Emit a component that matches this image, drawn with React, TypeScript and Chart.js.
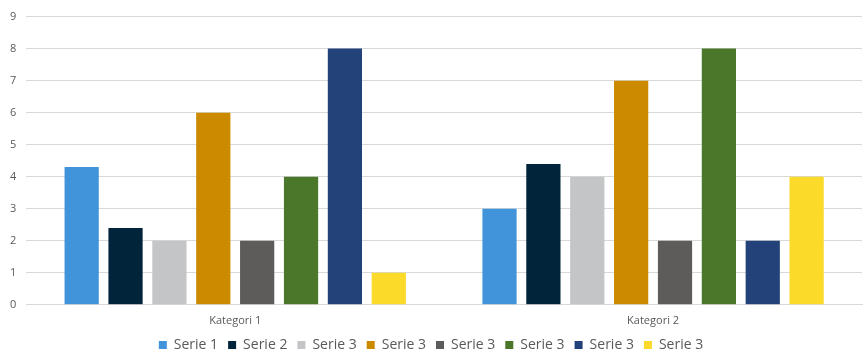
import React, { useEffect, useRef } from "react";
import { Chart, registerables } from "chart.js";

Chart.register(...registerables);

const categories = ["Kategori 1", "Kategori 2"];
const seriesNames = ["Serie 1", "Serie 2", "Serie 3", "Serie 3", "Serie 3", "Serie 3", "Serie 3", "Serie 3"];
const seriesValues = [
  [4.3, 3],
  [2.4, 4.4],
  [2, 4],
  [6, 7],
  [2, 2],
  [4, 8],
  [8, 2],
  [1, 4],
];
const seriesColors = ["#4294DA", "#01243B", "#C4C5C7", "#CC8A00", "#5D5C5A", "#4A7729", "#24427A", "#FCDA29"];

export default function App() {
  const ref = useRef<HTMLCanvasElement>(null);
  useEffect(() => {
    if (!ref.current) return;
    const chart = new Chart(ref.current, {
      type: "bar",
      data: {
        labels: categories,
        datasets: seriesNames.map((name, i) => ({
          label: name,
          data: seriesValues[i],
          backgroundColor: seriesColors[i],
          borderWidth: 0,
          categoryPercentage: 0.84,
          barPercentage: 0.78,
        })),
      },
      options: {
        animation: false,
        responsive: false,
        maintainAspectRatio: false,
        layout: { padding: { left: 0, right: 5, top: 6, bottom: -4 } },
        plugins: {
          legend: {
            position: "bottom",
            labels: {
              boxWidth: 8,
              boxHeight: 8,
              padding: 10,
              color: "#595959",
              font: { family: "'Open Sans', 'Noto Sans', sans-serif", size: 14 },
            },
          },
          tooltip: { enabled: false },
        },
        scales: {
          x: {
            grid: { display: false },
            border: { display: true, color: "#D9D9D9" },
            ticks: { color: "#595959", font: { family: "'Open Sans', 'Noto Sans', sans-serif", size: 11 }, padding: 1 },
          },
          y: {
            min: 0,
            max: 9,
            ticks: { stepSize: 1, color: "#595959", font: { family: "'Open Sans', 'Noto Sans', sans-serif", size: 11 }, padding: 10 },
            grid: { color: "#D9D9D9", drawTicks: false },
            border: { display: false },
          },
        },
      },
    });
    return () => chart.destroy();
  }, []);
  return (
    <div style={{ position: "absolute", left: 0, top: 0, width: 867, height: 358 }}>
      <canvas ref={ref} width={867} height={358} style={{ width: 867, height: 358 }} />
    </div>
  );
}
